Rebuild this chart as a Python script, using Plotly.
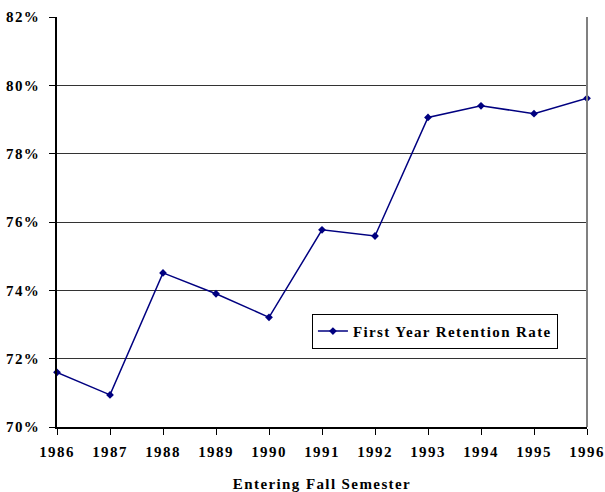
import plotly.graph_objects as go

years = [1986, 1987, 1988, 1989, 1990, 1991, 1992, 1993, 1994, 1995, 1996]
retention = [71.60, 70.94, 74.51, 73.90, 73.21, 75.77, 75.59, 79.06, 79.40, 79.17, 79.62]
y_ticks = [70, 72, 74, 76, 78, 80, 82]
y_tick_labels = ["70%", "72%", "74%", "76%", "78%", "80%", "82%"]
series_name = "First Year Retention Rate"
x_title = "Entering Fall Semester"

FONT = "Liberation Serif"

fig = go.Figure()
fig.add_trace(go.Scatter(
    x=years, y=retention, mode="lines+markers", name=series_name,
    line=dict(color="#000080", width=1.5),
    marker=dict(symbol="diamond", size=6, color="#000080"),
    cliponaxis=False,
))

fig.update_layout(
    width=605, height=492,
    margin=dict(l=57, r=18, t=17, b=65, autoexpand=False),
    paper_bgcolor="white", plot_bgcolor="white",
    font=dict(family=FONT, color="black"),
    showlegend=True,
    legend=dict(
        x=0.481, y=0.276, xanchor="left", yanchor="top",
        bgcolor="white", bordercolor="black", borderwidth=1,
        font=dict(family=FONT, size=15, color="black", weight="bold"),
        itemwidth=30,
    ),
    xaxis=dict(
        range=[1986, 1996], tickmode="array", tickvals=years,
        ticktext=[str(y) for y in years],
        showgrid=False, zeroline=False, automargin=False,
        showline=True, linecolor="black", linewidth=1.5,
        ticks="outside", ticklen=6, tickcolor="black",
        ticklabelstandoff=4,
        tickfont=dict(family=FONT, size=15, color="black", weight="bold"),
        title=dict(text=x_title, standoff=22,
                   font=dict(family=FONT, size=15, color="black", weight="bold")),
    ),
    yaxis=dict(
        range=[70, 82], tickmode="array", tickvals=y_ticks, ticktext=y_tick_labels,
        showgrid=True, gridcolor="#333333", gridwidth=1, zeroline=False,
        automargin=False,
        showline=True, linecolor="black", linewidth=1.5,
        ticks="outside", ticklen=6, tickcolor="black",
        ticklabelstandoff=6,
        tickfont=dict(family=FONT, size=15, color="black", weight="bold"),
    ),
)

fig.add_shape(type="line", xref="paper", yref="paper", x0=1, x1=1, y0=0, y1=1,
              line=dict(color="#808080", width=2))

post = """
var s=document.createElement('style');
s.textContent='body{margin:0;overflow:hidden;} text.legendtext, .xtick text, .ytick text, text.xtitle {letter-spacing:1.4px;}';
document.head.appendChild(s);
var gd=document.getElementById('{plot_id}');
return Plotly.relayout(gd, {'legend.font.size':15.01});
"""

fig.write_html("out.html", post_script=post, config={"displayModeBar": False})
